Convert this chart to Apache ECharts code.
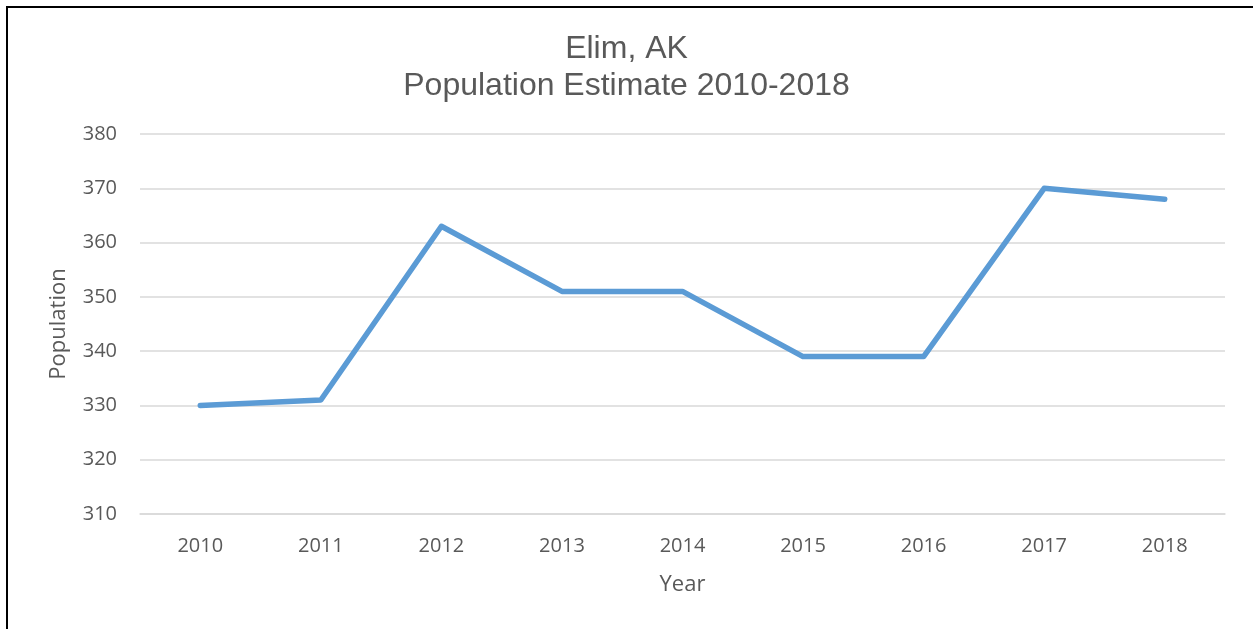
<!DOCTYPE html>
<html>
<head>
<meta charset="utf-8">
<script src="https://cdn.jsdelivr.net/npm/echarts@6/dist/echarts.min.js"></script>
<style>
  html, body { margin: 0; padding: 0; background: #fff; }
  #frame { position: absolute; left: 6px; top: 6px; width: 1260px; height: 640px;
           border-left: 2px solid #000; border-top: 2px solid #000; }
  #chart { position: absolute; left: 0; top: 0; width: 1253px; height: 629px; }
</style>
</head>
<body>
<div id="frame"></div>
<div id="chart"></div>
<script>
// Elim, AK annual population estimates
const years = ['2010', '2011', '2012', '2013', '2014', '2015', '2016', '2017', '2018'];
const population = [330, 331, 363, 351, 351, 339, 339, 370, 368];

const chart = echarts.init(document.getElementById('chart'));
const textColor = '#595959';
const labelFont = 'Open Sans';

chart.setOption({
  animation: false,
  title: {
    text: 'Elim, AK\nPopulation Estimate 2010-2018',
    left: 'center',
    top: 26,
    textStyle: {
      fontFamily: 'Liberation Sans',
      fontSize: 32,
      fontWeight: 'normal',
      color: textColor,
      lineHeight: 37
    }
  },
  grid: { left: 140, right: 28, top: 134, bottom: 115 },
  xAxis: {
    type: 'category',
    data: years,
    boundaryGap: true,
    name: 'Year',
    nameLocation: 'middle',
    nameGap: 60,
    nameTextStyle: { fontFamily: labelFont, fontSize: 22, color: textColor },
    axisLine: { show: true, lineStyle: { color: '#d9d9d9', width: 1.5 } },
    axisTick: { show: false },
    axisLabel: { fontFamily: labelFont, fontSize: 20, color: textColor, margin: 22 }
  },
  yAxis: {
    type: 'value',
    min: 310,
    max: 380,
    interval: 10,
    name: 'Population',
    nameLocation: 'middle',
    nameGap: 70,
    nameTextStyle: { fontFamily: labelFont, fontSize: 22, color: textColor },
    axisLine: { show: false },
    axisTick: { show: false },
    axisLabel: { fontFamily: labelFont, fontSize: 20, color: textColor, margin: 23 },
    splitLine: { lineStyle: { color: '#d9d9d9', width: 1.5 } }
  },
  series: [{
    type: 'line',
    data: population,
    symbol: 'none',
    lineStyle: { color: '#5b9bd5', width: 5.5, cap: 'round', join: 'round' },
    itemStyle: { color: '#5b9bd5' }
  }]
});
</script>
</body>
</html>
